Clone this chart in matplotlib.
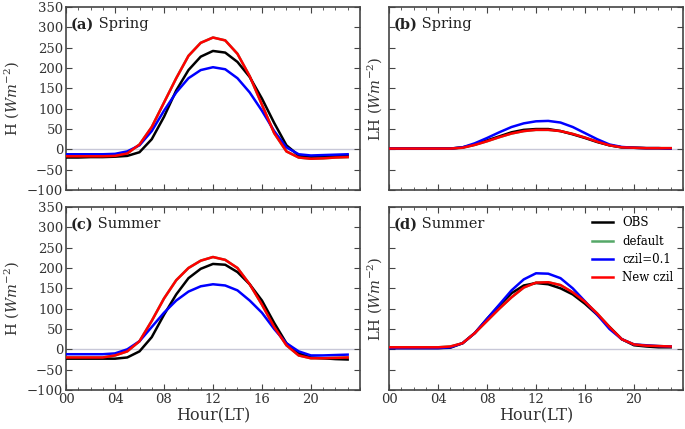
import numpy as np
import matplotlib
matplotlib.use("Agg")
import matplotlib.pyplot as plt
from matplotlib.ticker import MultipleLocator

plt.rcParams['font.family'] = 'DejaVu Serif'
plt.rcParams['mathtext.fontset'] = 'dejavuserif'

hours = np.arange(24)

# ---------- (a) H Spring ----------
h_spr_obs = [-20, -20, -19, -19, -18, -16, -7, 25, 80, 145, 195, 228, 242, 238,
             215, 178, 125, 65, 10, -15, -18, -17, -16, -15]
h_spr_new = [-17, -17, -17, -17, -16, -10, 12, 55, 115, 175, 230, 262, 275, 268,
             235, 180, 110, 40, -5, -20, -23, -22, -20, -19]
h_spr_czil = [-12, -12, -12, -12, -11, -5, 10, 45, 95, 140, 175, 195, 202, 197,
              175, 140, 95, 45, 5, -12, -15, -14, -13, -12]

# ---------- (b) LH Spring ----------
lh_spr_obs = [2, 2, 2, 2, 2, 2, 5, 12, 22, 32, 42, 48, 50, 50,
              45, 37, 28, 18, 10, 5, 4, 3, 3, 2]
lh_spr_new = [2, 2, 2, 2, 2, 2, 4, 11, 20, 30, 39, 45, 48, 48,
              45, 38, 29, 19, 10, 5, 4, 3, 3, 3]
lh_spr_czil = [2, 2, 2, 2, 2, 2, 5, 15, 28, 42, 55, 64, 69, 70,
               66, 55, 40, 25, 12, 6, 4, 3, 3, 2]

# ---------- (c) H Summer ----------
h_sum_obs = [-23, -23, -23, -23, -23, -20, -5, 30, 85, 135, 175, 198, 210, 208,
             190, 160, 120, 65, 15, -10, -20, -22, -24, -25]
h_sum_new = [-20, -20, -20, -20, -15, -5, 20, 70, 125, 170, 200, 218, 227, 220,
             200, 160, 110, 55, 10, -15, -22, -22, -21, -20]
h_sum_czil = [-12, -12, -12, -12, -10, 0, 20, 55, 90, 120, 142, 155, 160, 157,
              145, 120, 90, 50, 15, -5, -15, -15, -14, -13]

# ---------- (d) LH Summer ----------
lh_sum_obs = [3, 3, 3, 3, 3, 4, 15, 40, 75, 108, 138, 157, 163, 160,
              150, 135, 112, 85, 55, 25, 10, 7, 5, 5]
lh_sum_new = [5, 5, 5, 5, 5, 7, 15, 40, 70, 100, 128, 152, 164, 165,
              158, 140, 117, 88, 55, 25, 12, 9, 8, 7]
lh_sum_czil = [3, 3, 3, 3, 3, 5, 15, 40, 75, 110, 145, 172, 187, 186,
               175, 150, 118, 85, 50, 25, 12, 10, 8, 7]

panels = [
    ("(a)", "Spring", "H", h_spr_obs, h_spr_new, h_spr_czil),
    ("(b)", "Spring", "LH", lh_spr_obs, lh_spr_new, lh_spr_czil),
    ("(c)", "Summer", "H", h_sum_obs, h_sum_new, h_sum_czil),
    ("(d)", "Summer", "LH", lh_sum_obs, lh_sum_new, lh_sum_czil),
]

xticks = [0, 4, 8, 12, 16, 20]
xticklabels = ["00", "04", "08", "12", "16", "20"]

fig = plt.figure(figsize=(6.85, 4.29), dpi=100)
pos = [
    [0.0964, 0.557, 0.429, 0.4266],
    [0.568, 0.557, 0.429, 0.4266],
    [0.0964, 0.0909, 0.429, 0.4266],
    [0.568, 0.0909, 0.429, 0.4266],
]

for i, (tag, season, var, obs, new, czil) in enumerate(panels):
    ax = fig.add_axes(pos[i])
    ax.axhline(0, color='#c8c8d8', lw=1, zorder=1)
    ax.plot(hours, obs, color='black', lw=1.8, label='OBS', zorder=3)
    ax.plot(hours, new, color='#55a868', lw=1.8, label='default', zorder=2)
    ax.plot(hours, czil, color='blue', lw=1.8, label='czil=0.1', zorder=3)
    ax.plot(hours, new, color='red', lw=1.8, label='New czil', zorder=4)

    ax.set_xlim(0, 24)
    ax.set_ylim(-100, 350)
    ax.yaxis.set_major_locator(MultipleLocator(50))
    ax.xaxis.set_minor_locator(MultipleLocator(1))
    ax.set_xticks(xticks)
    ax.tick_params(which='both', direction='in', top=True, right=True,
                   colors='#444444', labelcolor='#333333', labelsize=9.5)
    ax.tick_params(which='major', length=4, pad=2)
    ax.tick_params(which='minor', length=2)
    for sp in ax.spines.values():
        sp.set_color('#444444')
        sp.set_linewidth(1.2)

    if i < 2:
        ax.set_xticklabels([])
    else:
        ax.set_xticklabels(xticklabels)
        ax.set_xlabel('Hour(LT)', fontsize=11.5, color='#333333', labelpad=1)
    if i % 2 == 1:
        ax.set_yticklabels([])
    ax.set_ylabel(var + r' ($Wm^{-2}$)', fontsize=10.5, color='#333333',
                  labelpad=4.5 if i % 2 == 0 else 1.5)

    t = ax.text(0.015, 0.905, tag, transform=ax.transAxes, fontsize=10.5,
                fontweight='bold', va='center', color='#222222')
    ax.annotate(' ' + season, xy=(1, 0.5), xycoords=t, va='center',
                fontsize=10.5, color='#222222')

    if i == 3:
        ax.legend(loc='upper right', frameon=False, fontsize=8.5,
                  handlelength=1.8, borderaxespad=0.4, labelspacing=0.45)

fig.savefig("out.png", dpi=100)
